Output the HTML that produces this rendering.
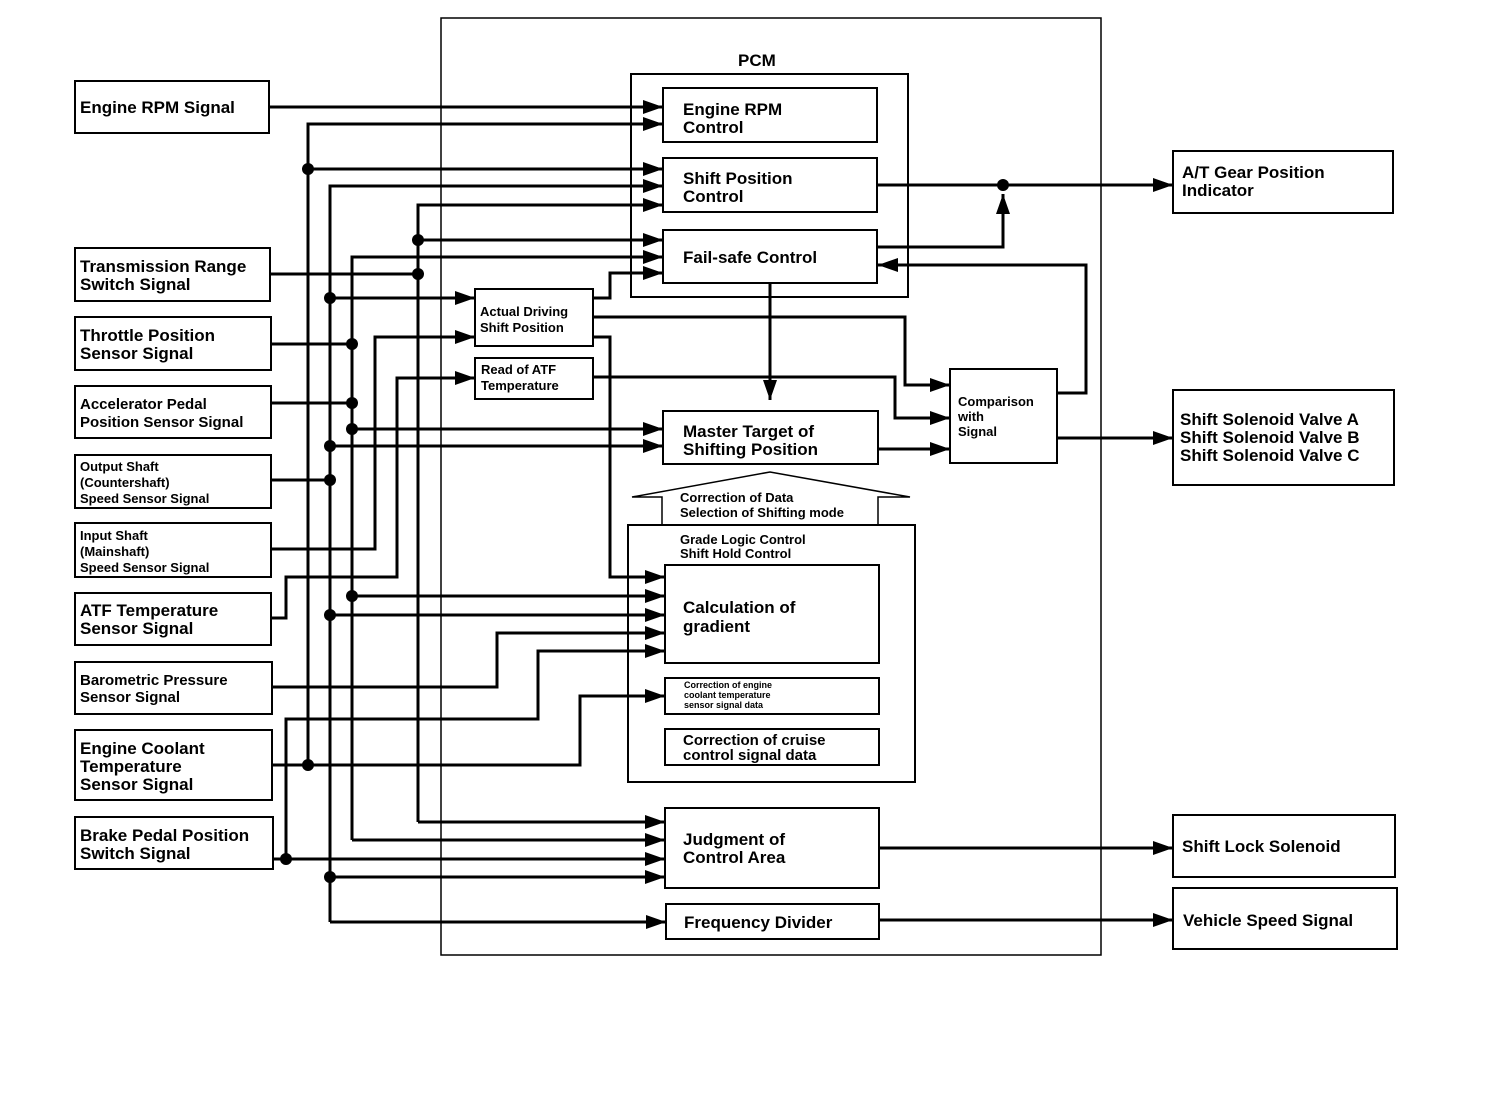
<!DOCTYPE html>
<html><head><meta charset="utf-8"><style>
html,body{margin:0;padding:0;background:#fff;}
svg{display:block;}
text{font-family:"Liberation Sans",Arial,sans-serif;font-weight:bold;fill:#000;}
</style></head><body>
<svg width="1504" height="1112" viewBox="0 0 1504 1112" xmlns="http://www.w3.org/2000/svg">
<defs>
<marker id="a" markerUnits="userSpaceOnUse" markerWidth="22" markerHeight="14" refX="20" refY="7" orient="auto"><path d="M0,0 L20,7 L0,14 z" fill="#000"/></marker>
</defs>
<g fill="none" stroke="#000" stroke-width="2">
<!-- PCM outer -->
<rect x="441" y="18" width="660" height="937" stroke-width="1.5"/>
<rect x="631" y="74" width="277" height="223"/>
<!-- left boxes -->
<rect x="75" y="81" width="194" height="52"/>
<rect x="75" y="248" width="195" height="53"/>
<rect x="75" y="317" width="196" height="53"/>
<rect x="75" y="386" width="196" height="52"/>
<rect x="75" y="455" width="196" height="53"/>
<rect x="75" y="523" width="196" height="54"/>
<rect x="75" y="593" width="196" height="52"/>
<rect x="75" y="662" width="197" height="52"/>
<rect x="75" y="730" width="197" height="70"/>
<rect x="75" y="817" width="198" height="52"/>
<!-- PCM boxes -->
<rect x="663" y="88" width="214" height="54"/>
<rect x="663" y="158" width="214" height="54"/>
<rect x="663" y="230" width="214" height="53"/>
<rect x="475" y="289" width="118" height="57"/>
<rect x="475" y="358" width="118" height="41"/>
<rect x="663" y="411" width="215" height="53"/>
<rect x="950" y="369" width="107" height="94"/>
<rect x="628" y="525" width="287" height="257"/>
<rect x="665" y="565" width="214" height="98"/>
<rect x="665" y="678" width="214" height="36"/>
<rect x="665" y="729" width="214" height="36"/>
<rect x="665" y="808" width="214" height="80"/>
<rect x="666" y="904" width="213" height="35"/>
<!-- right boxes -->
<rect x="1173" y="151" width="220" height="62"/>
<rect x="1173" y="390" width="221" height="95"/>
<rect x="1173" y="815" width="222" height="62"/>
<rect x="1173" y="888" width="224" height="61"/>
<!-- hollow arrow -->
<path d="M662 525 V497 H632 L770 472 L910 497 H878 V525" stroke-width="1.5"/>
</g>
<g fill="none" stroke="#000" stroke-width="3" marker-end="url(#a)">
<path d="M269 107 H663"/>
<path d="M308 765 V124 H663"/>
<path d="M308 169 H663"/>
<path d="M272 765 H580 V696 H665"/>
<path d="M330 922 V186 H663"/>
<path d="M330 298 H475"/>
<path d="M330 446 H663"/>
<path d="M330 615 H665"/>
<path d="M330 877 H665"/>
<path d="M330 922 H666"/>
<path d="M352 840 V257 H663"/>
<path d="M352 429 H663"/>
<path d="M352 596 H665"/>
<path d="M352 840 H665"/>
<path d="M418 822 V205 H663"/>
<path d="M418 240 H663"/>
<path d="M418 822 H665"/>
<path d="M271 549 H375 V337 H475"/>
<path d="M271 618 H286 V577 H397 V378 H475"/>
<path d="M272 687 H497 V633 H665"/>
<path d="M273 859 H665"/>
<path d="M286 859 V719 H538 V651 H665"/>
<path d="M593 298 H610 V273 H663"/>
<path d="M593 317 H905 V385 H950"/>
<path d="M593 337 H610 V577 H665"/>
<path d="M593 377 H895 V418 H950"/>
<path d="M878 449 H950"/>
<path d="M1057 393 H1086 V265 H878"/>
<path d="M1057 438 H1173"/>
<path d="M877 185 H1173"/>
<path d="M877 247 H1003 V194"/>
<path d="M770 297 V400"/>
<path d="M879 848 H1173"/>
<path d="M879 920 H1173"/>
</g>
<g stroke="#000" stroke-width="3" fill="none">
<path d="M270 274 H418"/><path d="M271 344 H352"/><path d="M271 403 H352"/><path d="M271 480 H330"/>
<path d="M770 283 V297"/>
</g>
<g fill="#000">
<circle cx="308" cy="169" r="6"/><circle cx="308" cy="765" r="6"/>
<circle cx="330" cy="298" r="6"/><circle cx="330" cy="446" r="6"/><circle cx="330" cy="480" r="6"/><circle cx="330" cy="615" r="6"/><circle cx="330" cy="877" r="6"/>
<circle cx="352" cy="344" r="6"/><circle cx="352" cy="403" r="6"/><circle cx="352" cy="429" r="6"/><circle cx="352" cy="596" r="6"/>
<circle cx="418" cy="240" r="6"/><circle cx="418" cy="274" r="6"/>
<circle cx="286" cy="859" r="6"/><circle cx="1003" cy="185" r="6"/>
</g>
<g font-size="17">
<text x="80" y="113">Engine RPM Signal</text>
<text x="80" y="272">Transmission Range</text><text x="80" y="290">Switch Signal</text>
<text x="80" y="341">Throttle Position</text><text x="80" y="359">Sensor Signal</text>
<text x="80" y="616" >ATF Temperature</text><text x="80" y="634">Sensor Signal</text>
<text x="80" y="754">Engine Coolant</text><text x="80" y="772">Temperature</text><text x="80" y="790">Sensor Signal</text>
<text x="80" y="841">Brake Pedal Position</text><text x="80" y="859">Switch Signal</text>
<text x="683" y="115">Engine RPM</text><text x="683" y="133">Control</text>
<text x="683" y="184">Shift Position</text><text x="683" y="202">Control</text>
<text x="683" y="263">Fail-safe Control</text>
<text x="683" y="437">Master Target of</text><text x="683" y="455">Shifting Position</text>
<text x="683" y="613">Calculation of</text><text x="683" y="632">gradient</text>
<text x="683" y="845">Judgment of</text><text x="683" y="863">Control Area</text>
<text x="684" y="928">Frequency Divider</text>
<text x="1182" y="178">A/T Gear Position</text><text x="1182" y="196">Indicator</text>
<text x="1180" y="425">Shift Solenoid Valve A</text><text x="1180" y="443">Shift Solenoid Valve B</text><text x="1180" y="461">Shift Solenoid Valve C</text>
<text x="1182" y="852">Shift Lock Solenoid</text>
<text x="1183" y="926">Vehicle Speed Signal</text>
<text x="738" y="66">PCM</text>
</g>
<g font-size="15">
<text x="80" y="409">Accelerator Pedal</text><text x="80" y="427">Position Sensor Signal</text>
<text x="80" y="685">Barometric Pressure</text><text x="80" y="702">Sensor Signal</text>
<text x="683" y="745">Correction of cruise</text><text x="683" y="760">control signal data</text>
</g>
<g font-size="13">
<text x="80" y="471">Output Shaft</text><text x="80" y="487">(Countershaft)</text><text x="80" y="503">Speed Sensor Signal</text>
<text x="80" y="540">Input Shaft</text><text x="80" y="556">(Mainshaft)</text><text x="80" y="572">Speed Sensor Signal</text>
<text x="480" y="316">Actual Driving</text><text x="480" y="332">Shift Position</text>
<text x="481" y="374">Read of ATF</text><text x="481" y="390">Temperature</text>
<text x="958" y="406">Comparison</text><text x="958" y="421">with</text><text x="958" y="436">Signal</text>
<text x="680" y="502">Correction of Data</text><text x="680" y="517">Selection of Shifting mode</text>
<text x="680" y="544">Grade Logic Control</text><text x="680" y="558">Shift Hold Control</text>
</g>
<g font-size="9">
<text x="684" y="688">Correction of engine</text><text x="684" y="698">coolant temperature</text><text x="684" y="708">sensor signal data</text>
</g>
</svg>
</body></html>
